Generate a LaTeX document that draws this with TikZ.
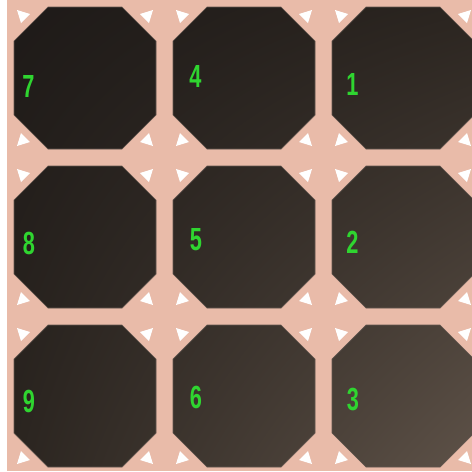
\documentclass[tikz,border=0pt]{standalone}
\usepackage{fontspec}
\setmainfont{Liberation Sans}
\usepackage{graphicx}
\usetikzlibrary{shadings}
\definecolor{pinkbg}{HTML}{E9BBA9}
\definecolor{digitgreen}{HTML}{2FD530}
\definecolor{octedge}{HTML}{62564F}
\definecolor{shUL}{HTML}{1E1A18}
\definecolor{shUR}{HTML}{2B2520}
\definecolor{shLL}{HTML}{2B2520}
\definecolor{shLR}{HTML}{5E5248}
\tikzset{
  digit/.style={inner sep=0pt, text=digitgreen, font=\fontsize{32}{32}\selectfont\bfseries},
  marker/.style={fill=white},
  octline/.style={draw=octedge, line width=0.7pt}
}
\newcommand{\dig}[1]{\scalebox{0.68}[1]{#1}}
\begin{document}
\begin{tikzpicture}[x=1pt,y=-1pt]
\useasboundingbox (0,0) rectangle (472,472);
\fill[white] (0,0) rectangle (472,472);
\fill[pinkbg] (7,0) rectangle (472,471);
% octagons with shading
\begin{scope}
\clip \foreach \i in {0,1,2} { \foreach \j in {0,1,2} {
  (14+159*\i+34,7+159*\j) -- (14+159*\i+108,7+159*\j) -- (14+159*\i+142,7+159*\j+34) -- (14+159*\i+142,7+159*\j+108)
  -- (14+159*\i+108,7+159*\j+142) -- (14+159*\i+34,7+159*\j+142) -- (14+159*\i,7+159*\j+108) -- (14+159*\i,7+159*\j+34) -- cycle } };
\shade[upper left=shUL, upper right=shUR, lower left=shLL, lower right=shLR] (14,7) rectangle (474,467);
\end{scope}
\foreach \i in {0,1,2} { \foreach \j in {0,1,2} {
  \draw[octline] (14+159*\i+34,7+159*\j) -- (14+159*\i+108,7+159*\j) -- (14+159*\i+142,7+159*\j+34) -- (14+159*\i+142,7+159*\j+108)
  -- (14+159*\i+108,7+159*\j+142) -- (14+159*\i+34,7+159*\j+142) -- (14+159*\i,7+159*\j+108) -- (14+159*\i,7+159*\j+34) -- cycle;
  % corner markers
  \foreach \cx/\cy/\sx/\sy in {0/0/1/1, 142/0/-1/1, 0/142/1/-1, 142/142/-1/-1} {
    \fill[marker] (14+159*\i+\cx+3*\sx, 7+159*\j+\cy+3*\sy) -- (14+159*\i+\cx+16*\sx, 7+159*\j+\cy+7*\sy) -- (14+159*\i+\cx+7*\sx, 7+159*\j+\cy+16*\sy) -- cycle;
  }
} }
% numbers
\node[digit] (n7) at (28.5,86.5) {\dig{7}};
\node[digit] (n4) at (195.5,76.5) {\dig{4}};
\node[digit] (n1) at (352.5,84.5) {\dig{1}};
\node[digit] (n8) at (29,243.5) {\dig{8}};
\node[digit] (n5) at (196,240) {\dig{5}};
\node[digit] (n2) at (352.5,242.5) {\dig{2}};
\node[digit] (n9) at (29,401.5) {\dig{9}};
\node[digit] (n6) at (196,397) {\dig{6}};
\node[digit] (n3) at (353,400) {\dig{3}};
\end{tikzpicture}
\end{document}
